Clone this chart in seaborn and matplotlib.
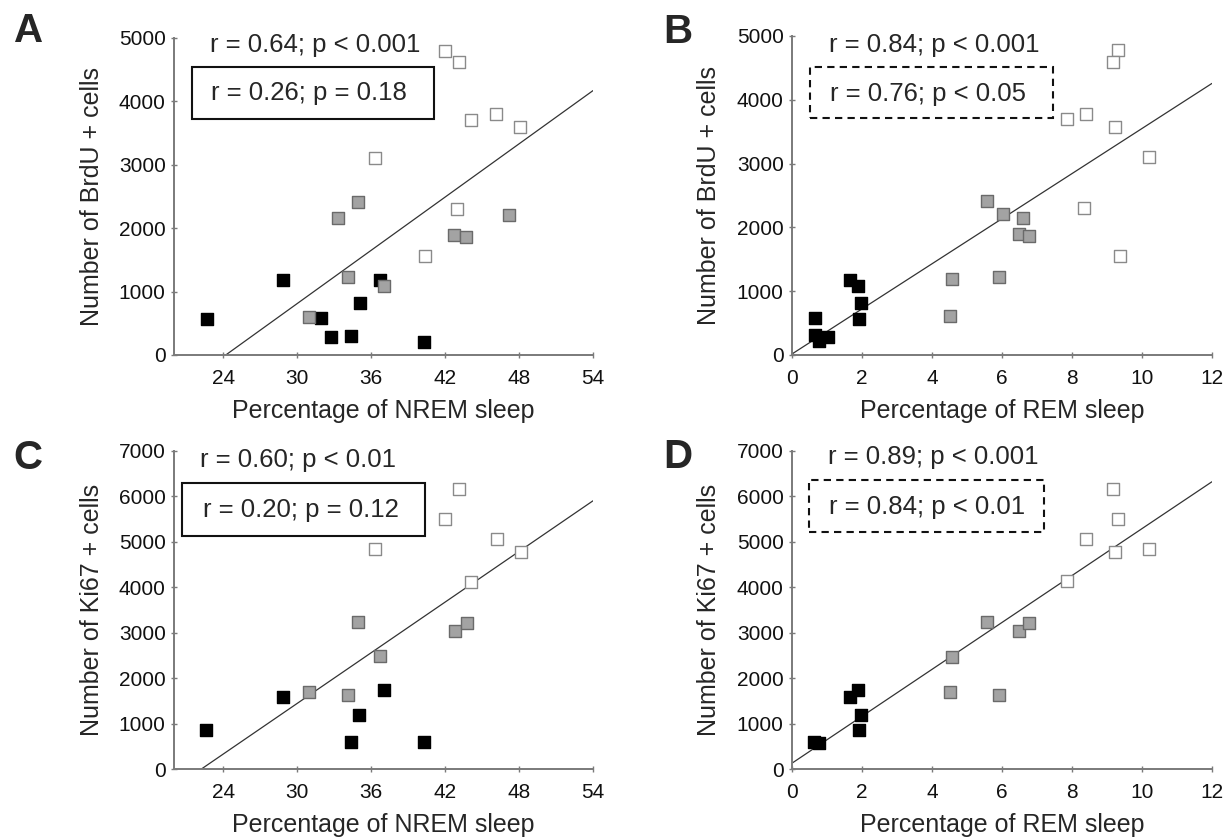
import matplotlib
matplotlib.use("Agg")
import matplotlib.pyplot as plt
from matplotlib.patches import Rectangle
import numpy as np
import pandas as pd
import seaborn as sns

# Panel A: BrdU vs % NREM sleep
A_NREM = [22.65, 28.84, 31.92, 32.76, 34.38, 35.08, 36.70, 40.27,
          30.97, 33.27, 34.97, 34.08, 37.08, 42.76, 43.73, 47.16,
          41.97, 43.14, 36.32, 44.11, 46.16, 48.08, 42.97, 40.38]
A_BRDU = [568, 1178, 578, 279, 300, 815, 1188, 210,
          605, 2156, 2413, 1225, 1088, 1893, 1861, 2208,
          4790, 4617, 3108, 3702, 3796, 3591, 2298, 1562]
A_GROUP = ["black"] * 8 + ["gray"] * 8 + ["white"] * 8

# Panel B: BrdU vs % REM sleep
B_REM = [0.66, 0.66, 0.77, 1.04, 1.65, 1.90, 1.98, 1.92,
         4.52, 4.56, 5.56, 6.04, 5.92, 6.61, 6.50, 6.77,
         9.31, 9.16, 7.85, 8.40, 9.23, 10.20, 8.35, 9.38]
B_BRDU = [579, 308, 214, 282, 1169, 1086, 809, 569,
          605, 1195, 2411, 2202, 1221, 2145, 1889, 1863,
          4781, 4598, 3695, 3784, 3580, 3105, 2296, 1545]
B_GROUP = ["black"] * 8 + ["gray"] * 8 + ["white"] * 8

# Panel C: Ki67 vs % NREM sleep
C_NREM = [22.59, 28.81, 34.38, 35.05, 37.08, 40.27,
          30.97, 34.08, 34.97, 36.68, 42.78, 43.78,
          43.16, 42.00, 36.27, 46.22, 48.19, 44.14]
C_KI67 = [850, 1576, 601, 1188, 1737, 586,
          1701, 1620, 3226, 2493, 3028, 3204,
          6158, 5498, 4838, 5066, 4787, 4127]
C_GROUP = ["black"] * 6 + ["gray"] * 6 + ["white"] * 6

# Panel D: Ki67 vs % REM sleep
D_REM = [0.62, 0.78, 1.65, 1.90, 1.98, 1.92,
         4.52, 4.56, 5.56, 5.92, 6.50, 6.77,
         9.17, 9.31, 8.40, 9.24, 10.20, 7.85]
D_KI67 = [601, 579, 1576, 1737, 1195, 850,
          1701, 2471, 3226, 1635, 3028, 3204,
          6158, 5506, 5058, 4787, 4853, 4135]
D_GROUP = ["black"] * 6 + ["gray"] * 6 + ["white"] * 6

STATS_ALL = ["r = 0.64; p < 0.001", "r = 0.84; p < 0.001",
             "r = 0.60; p < 0.01", "r = 0.89; p < 0.001"]
STATS_SUB = ["r = 0.26; p = 0.18", "r = 0.76; p < 0.05",
             "r = 0.20; p = 0.12", "r = 0.84; p < 0.01"]
PANEL_LETTERS = ["A", "B", "C", "D"]

NREM_TICKS = [24, 30, 36, 42, 48, 54]
REM_TICKS = [0, 2, 4, 6, 8, 10, 12]
BRDU_TICKS = [0, 1000, 2000, 3000, 4000, 5000]
KI67_TICKS = [0, 1000, 2000, 3000, 4000, 5000, 6000, 7000]

FILL = {"black": "#000000", "gray": "#a3a3a3", "white": "#ffffff"}
EDGE = {"black": "#000000", "gray": "#6a6a6a", "white": "#8a8a8a"}

sns.set_style("ticks")
plt.rcParams["font.family"] = ["Liberation Sans", "DejaVu Sans"]

AXIS_GRAY = "#7a7a7a"


def draw_panel(ax, x, y, group, xlim, ylim, xticks, yticks, xlabel, ylabel,
               top_pos, box, sub_pos, dashed, stat_all, stat_sub):
    df = pd.DataFrame({"x": x, "y": y, "group": group})
    ax.set_xlim(*xlim)
    ax.set_ylim(*ylim)
    # least-squares line over all animals, drawn across the whole x range
    sns.regplot(data=df, x="x", y="y", ax=ax, scatter=False, ci=None,
                truncate=False, line_kws={"color": "#333333", "lw": 0.9})
    for g in ["black", "gray", "white"]:
        sub = df[df["group"] == g]
        sns.scatterplot(data=sub, x="x", y="y", ax=ax, marker="s", s=74,
                        color=FILL[g], edgecolor=EDGE[g], linewidth=1.0,
                        zorder=3, legend=False)
    ax.set_xlim(*xlim)
    ax.set_ylim(*ylim)
    ax.set_xticks(xticks)
    ax.set_yticks(yticks)
    ax.set_xlabel(xlabel, fontsize=18, labelpad=8)
    ax.set_ylabel(ylabel, fontsize=18, labelpad=11)
    sns.despine(ax=ax)
    for side in ["left", "bottom"]:
        ax.spines[side].set_color(AXIS_GRAY)
        ax.spines[side].set_linewidth(1.4)
    ax.tick_params(axis="both", direction="inout", length=4, width=1.0,
                   color=AXIS_GRAY, labelsize=15, labelcolor="#111111")
    ax.tick_params(axis="x", pad=8)
    ax.tick_params(axis="y", pad=4)

    ax.text(top_pos[0], top_pos[1], stat_all, transform=ax.transAxes,
            ha="center", va="center", fontsize=18.5)
    x0, y0, x1, y1 = box
    rect = Rectangle((x0, y0), x1 - x0, y1 - y0, transform=ax.transAxes,
                     fill=False, edgecolor="#111111", lw=1.5,
                     linestyle=(0, (3.5, 2.5)) if dashed else "-",
                     clip_on=False, zorder=4)
    ax.add_patch(rect)
    ax.text(sub_pos[0], sub_pos[1], stat_sub, transform=ax.transAxes,
            ha="center", va="center", fontsize=18.5)


fig = plt.figure(figsize=(12.29, 8.4), dpi=100)

axA = fig.add_axes([0.1416, 0.5774, 0.3409, 0.3774])
axB = fig.add_axes([0.6444, 0.5774, 0.3417, 0.3798])
axC = fig.add_axes([0.1416, 0.0845, 0.3409, 0.3786])
axD = fig.add_axes([0.6444, 0.0845, 0.3417, 0.3786])

draw_panel(axA, A_NREM, A_BRDU, A_GROUP, (20, 54), (0, 5000), NREM_TICKS, BRDU_TICKS,
           "Percentage of NREM sleep", "Number of BrdU + cells",
           (0.3365, 0.978), (0.043, 0.7445, 0.6205, 0.9085), (0.322, 0.8265),
           False, STATS_ALL[0], STATS_SUB[0])
draw_panel(axB, B_REM, B_BRDU, B_GROUP, (0, 12), (0, 5000), REM_TICKS, BRDU_TICKS,
           "Percentage of REM sleep", "Number of BrdU + cells",
           (0.338, 0.972), (0.0429, 0.743, 0.6214, 0.903), (0.324, 0.818),
           True, STATS_ALL[1], STATS_SUB[1])
draw_panel(axC, C_NREM, C_KI67, C_GROUP, (20, 54), (0, 7000), NREM_TICKS, KI67_TICKS,
           "Percentage of NREM sleep", "Number of Ki67 + cells",
           (0.296, 0.972), (0.019, 0.733, 0.599, 0.899), (0.303, 0.814),
           False, STATS_ALL[2], STATS_SUB[2])
draw_panel(axD, D_REM, D_KI67, D_GROUP, (0, 12), (0, 7000), REM_TICKS, KI67_TICKS,
           "Percentage of REM sleep", "Number of Ki67 + cells",
           (0.336, 0.981), (0.0405, 0.745, 0.600, 0.909), (0.321, 0.824),
           True, STATS_ALL[3], STATS_SUB[3])

letter_pos = [(0.0236, 0.963), (0.5517, 0.962), (0.0228, 0.455), (0.5517, 0.456)]
for letter, (lx, ly) in zip(PANEL_LETTERS, letter_pos):
    fig.text(lx, ly, letter, fontsize=29, fontweight="bold", ha="center", va="center")

fig.savefig("out.png", dpi=100)
